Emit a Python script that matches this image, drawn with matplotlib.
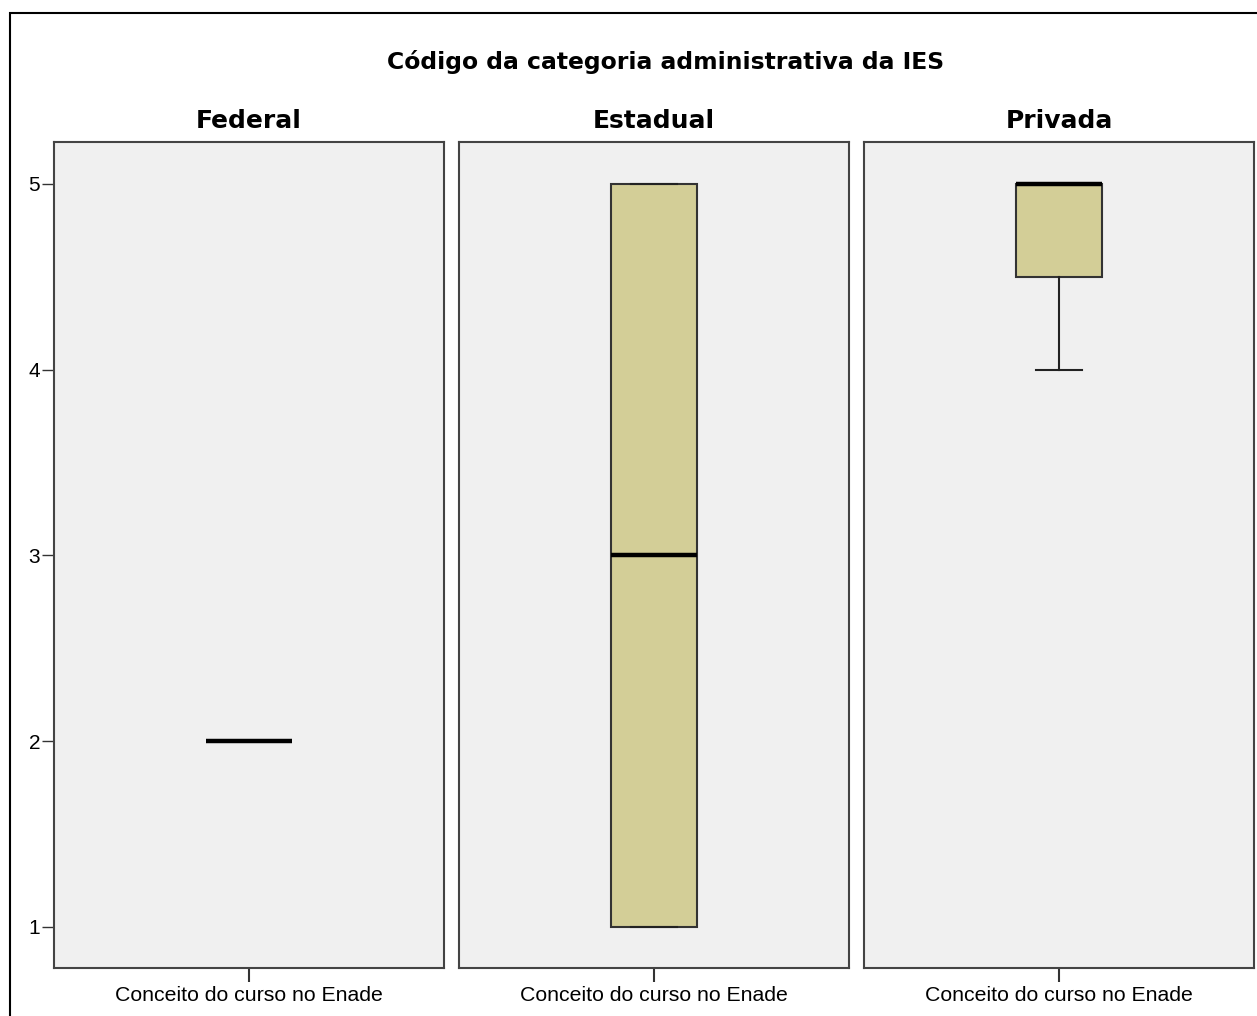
import matplotlib
matplotlib.use('Agg')
import matplotlib.pyplot as plt
from matplotlib.patches import Rectangle

plt.rcParams['font.family'] = ['Liberation Sans', 'DejaVu Sans']

# categorias e estatísticas das caixas (min, q1, mediana, q3, max)
categorias = ['Federal', 'Estadual', 'Privada']
minimos = [2, 1, 4]
q1s = [2, 1, 4.5]
medianas = [2, 3, 5]
q3s = [2, 5, 5]
maximos = [2, 5, 5]
rotulo_x = 'Conceito do curso no Enade'
titulo = 'Código da categoria administrativa da IES'
yticks = [1, 2, 3, 4, 5]

W, H = 1257, 1016
fig = plt.figure(figsize=(W / 100, H / 100), dpi=100)

# moldura externa
fig.patches.append(Rectangle((10 / W, -0.01), 1.0, (H - 13) / H + 0.01,
                             transform=fig.transFigure, fill=False,
                             edgecolor='black', linewidth=1.5))

fig.text(666 / W, 1 - 62 / H, titulo, ha='center', va='center',
         fontsize=16.9, fontweight='bold', family='DejaVu Sans')

lefts = [54, 459, 864]
largura = 390
topo, base = 142, 968

for i, cat in enumerate(categorias):
    ax = fig.add_axes([lefts[i] / W, 1 - base / H, largura / W, (base - topo) / H])
    ax.set_facecolor('#F0F0F0')
    stats = [{'whislo': minimos[i], 'q1': q1s[i], 'med': medianas[i],
              'q3': q3s[i], 'whishi': maximos[i], 'fliers': []}]
    ax.bxp(stats, positions=[0], widths=0.44, patch_artist=True,
           boxprops=dict(facecolor='#D3CE97', edgecolor='#333333', linewidth=1.5),
           medianprops=dict(color='black', linewidth=3.2),
           whiskerprops=dict(color='#222222', linewidth=1.5),
           capprops=dict(color='#222222', linewidth=1.5),
           capwidths=0.24)
    ax.set_xlim(-1, 1)
    ax.set_ylim(0.779, 5.226)
    ax.set_xticks([0])
    ax.set_xticklabels([rotulo_x], fontsize=15.3)
    ax.tick_params(axis='x', length=10, width=1.5, color='#333333', pad=3)
    if i == 0:
        ax.set_yticks(yticks)
        ax.set_yticklabels([str(v) for v in yticks], fontsize=15)
        ax.tick_params(axis='y', length=9, width=1, color='#333333', pad=1)
    else:
        ax.set_yticks([])
    for s in ax.spines.values():
        s.set_color('#444444')
        s.set_linewidth(1.5)
    ax.set_title(cat, fontsize=18, fontweight='bold', pad=10, family='DejaVu Sans')

fig.savefig('out.png', dpi=100)
